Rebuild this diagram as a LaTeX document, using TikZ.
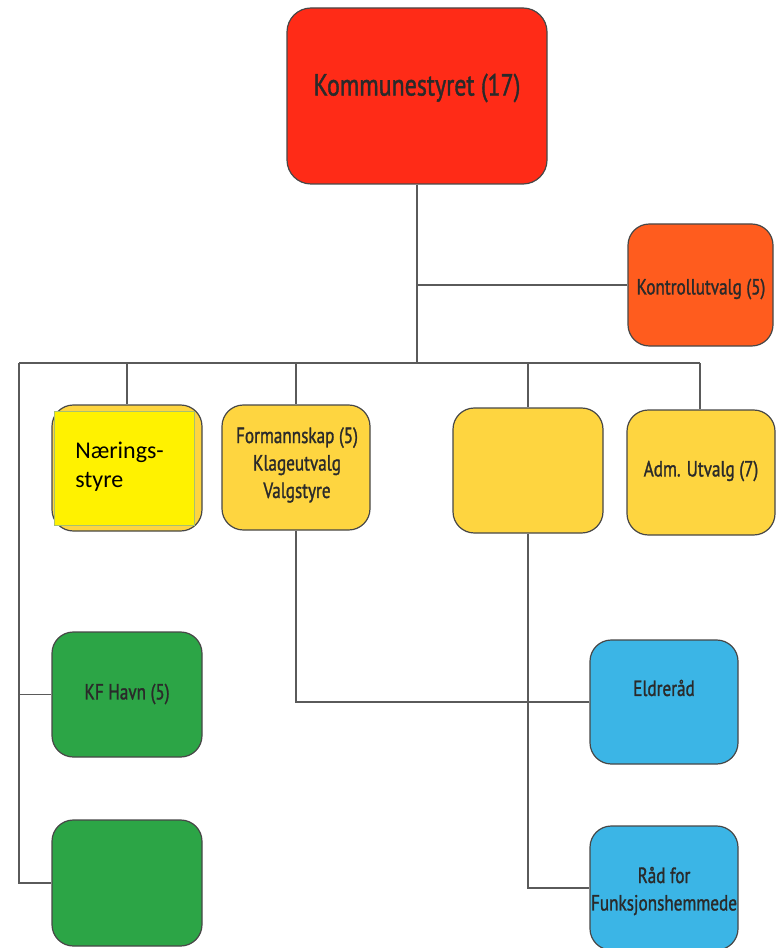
\documentclass[tikz,border=0pt]{standalone}
\usepackage{fontspec}
\setmainfont{PT Sans}[FakeStretch=0.78,FakeBold=1.2]
\newfontfamily\calfont{Carlito}
\definecolor{linegray}{HTML}{5A5A5A}
\definecolor{boxborder}{HTML}{474747}
\definecolor{kred}{HTML}{FF2B17}
\definecolor{korange}{HTML}{FF5C1E}
\definecolor{kyellow}{HTML}{FED540}
\definecolor{kgreen}{HTML}{2CA546}
\definecolor{kblue}{HTML}{3BB5E6}
\definecolor{ktext}{HTML}{2A2A2A}
\definecolor{overborder}{HTML}{A8C070}
\tikzset{
  orgbox/.style={draw=boxborder, line width=0.9pt, rounded corners=16pt, minimum width=#1*0.75pt, inner sep=0pt, align=center, text=ktext},
  conn/.style={draw=linegray, line width=1.1pt},
  lbl/.style={inner sep=0pt, align=center, text=ktext, font=\fontsize{16.5}{20.6}\selectfont}
}
\begin{document}
\begin{tikzpicture}[x=0.75pt,y=-0.75pt]
\useasboundingbox (0,0) rectangle (780,948);
% top
\node[orgbox=260, fill=kred, minimum height=176*0.75pt, rounded corners=18pt] (komm) at (417,96) {};
\node[lbl, font=\fontsize{23}{26}\selectfont] (kommtxt) at (417,88) {Kommunestyret (17)};
\node[orgbox=145, fill=korange, minimum height=122*0.75pt] (kontroll) at (700.5,285) {};
\node[lbl] (kontrolltxt) at (701,289) {Kontrollutvalg (5)};
% bus
\coordinate (busL) at (19,363);
\coordinate (busR) at (700,363);
% yellow row
\node[orgbox=150, fill=kyellow, minimum height=126*0.75pt] (naer) at (127,468) {};
\node[orgbox=148, fill=kyellow, minimum height=125*0.75pt] (form) at (296,467.5) {};
\node[lbl] (formtxt) at (297,465) {Formannskap (5)\\Klageutvalg\\Valgstyre};
\node[orgbox=150, fill=kyellow, minimum height=125*0.75pt] (blank) at (528,470.5) {};
\node[orgbox=148, fill=kyellow, minimum height=125*0.75pt] (adm) at (701,472.5) {};
\node[lbl] (admtxt) at (701,471) {Adm. Utvalg (7)};
% green
\node[orgbox=150, fill=kgreen, minimum height=125*0.75pt] (kfhavn) at (127,694.5) {};
\node[lbl] (kfhavntxt) at (127,694) {KF Havn (5)};
\node[orgbox=150, fill=kgreen, minimum height=126*0.75pt] (green2) at (127,883) {};
% blue
\node[orgbox=148, fill=kblue, minimum height=124*0.75pt] (eldre) at (664,702) {};
\node[lbl] (eldretxt) at (664,688) {Eldreråd};
\node[orgbox=148, fill=kblue, minimum height=124*0.75pt] (raad) at (664,888) {};
\node[lbl] (raadtxt) at (664,891) {Råd for\\Funksjonshemmede};
% connectors
\draw[conn] (komm.south) -- (komm.south |- busL);
\draw[conn] (komm.south |- kontroll.west) -- (kontroll.west);
\draw[conn] (busL) -- (busR);
\draw[conn] (naer.north |- busL) -- (naer.north);
\draw[conn] (form.north |- busL) -- (form.north);
\draw[conn] (blank.north |- busL) -- (blank.north);
\draw[conn] (busR) -- (busR |- adm.north);
\draw[conn] (busL) |- (kfhavn.west);
\draw[conn] (busL) |- (green2.west);
\draw[conn] (form.south) |- (eldre.west);
\draw[conn] (blank.south) |- (raad.west);
% yellow overlay
\node[draw=overborder, line width=0.6pt, fill=yellow, minimum width=140*0.75pt, minimum height=114*0.75pt, inner sep=0pt] (naerover) at (124,468) {};
\node[anchor=north west, inner sep=0pt, align=left, font=\calfont\fontsize{18}{21.8}\selectfont] (naertxt) at (75,442) {Nærings-\\styre};
\end{tikzpicture}
\end{document}
